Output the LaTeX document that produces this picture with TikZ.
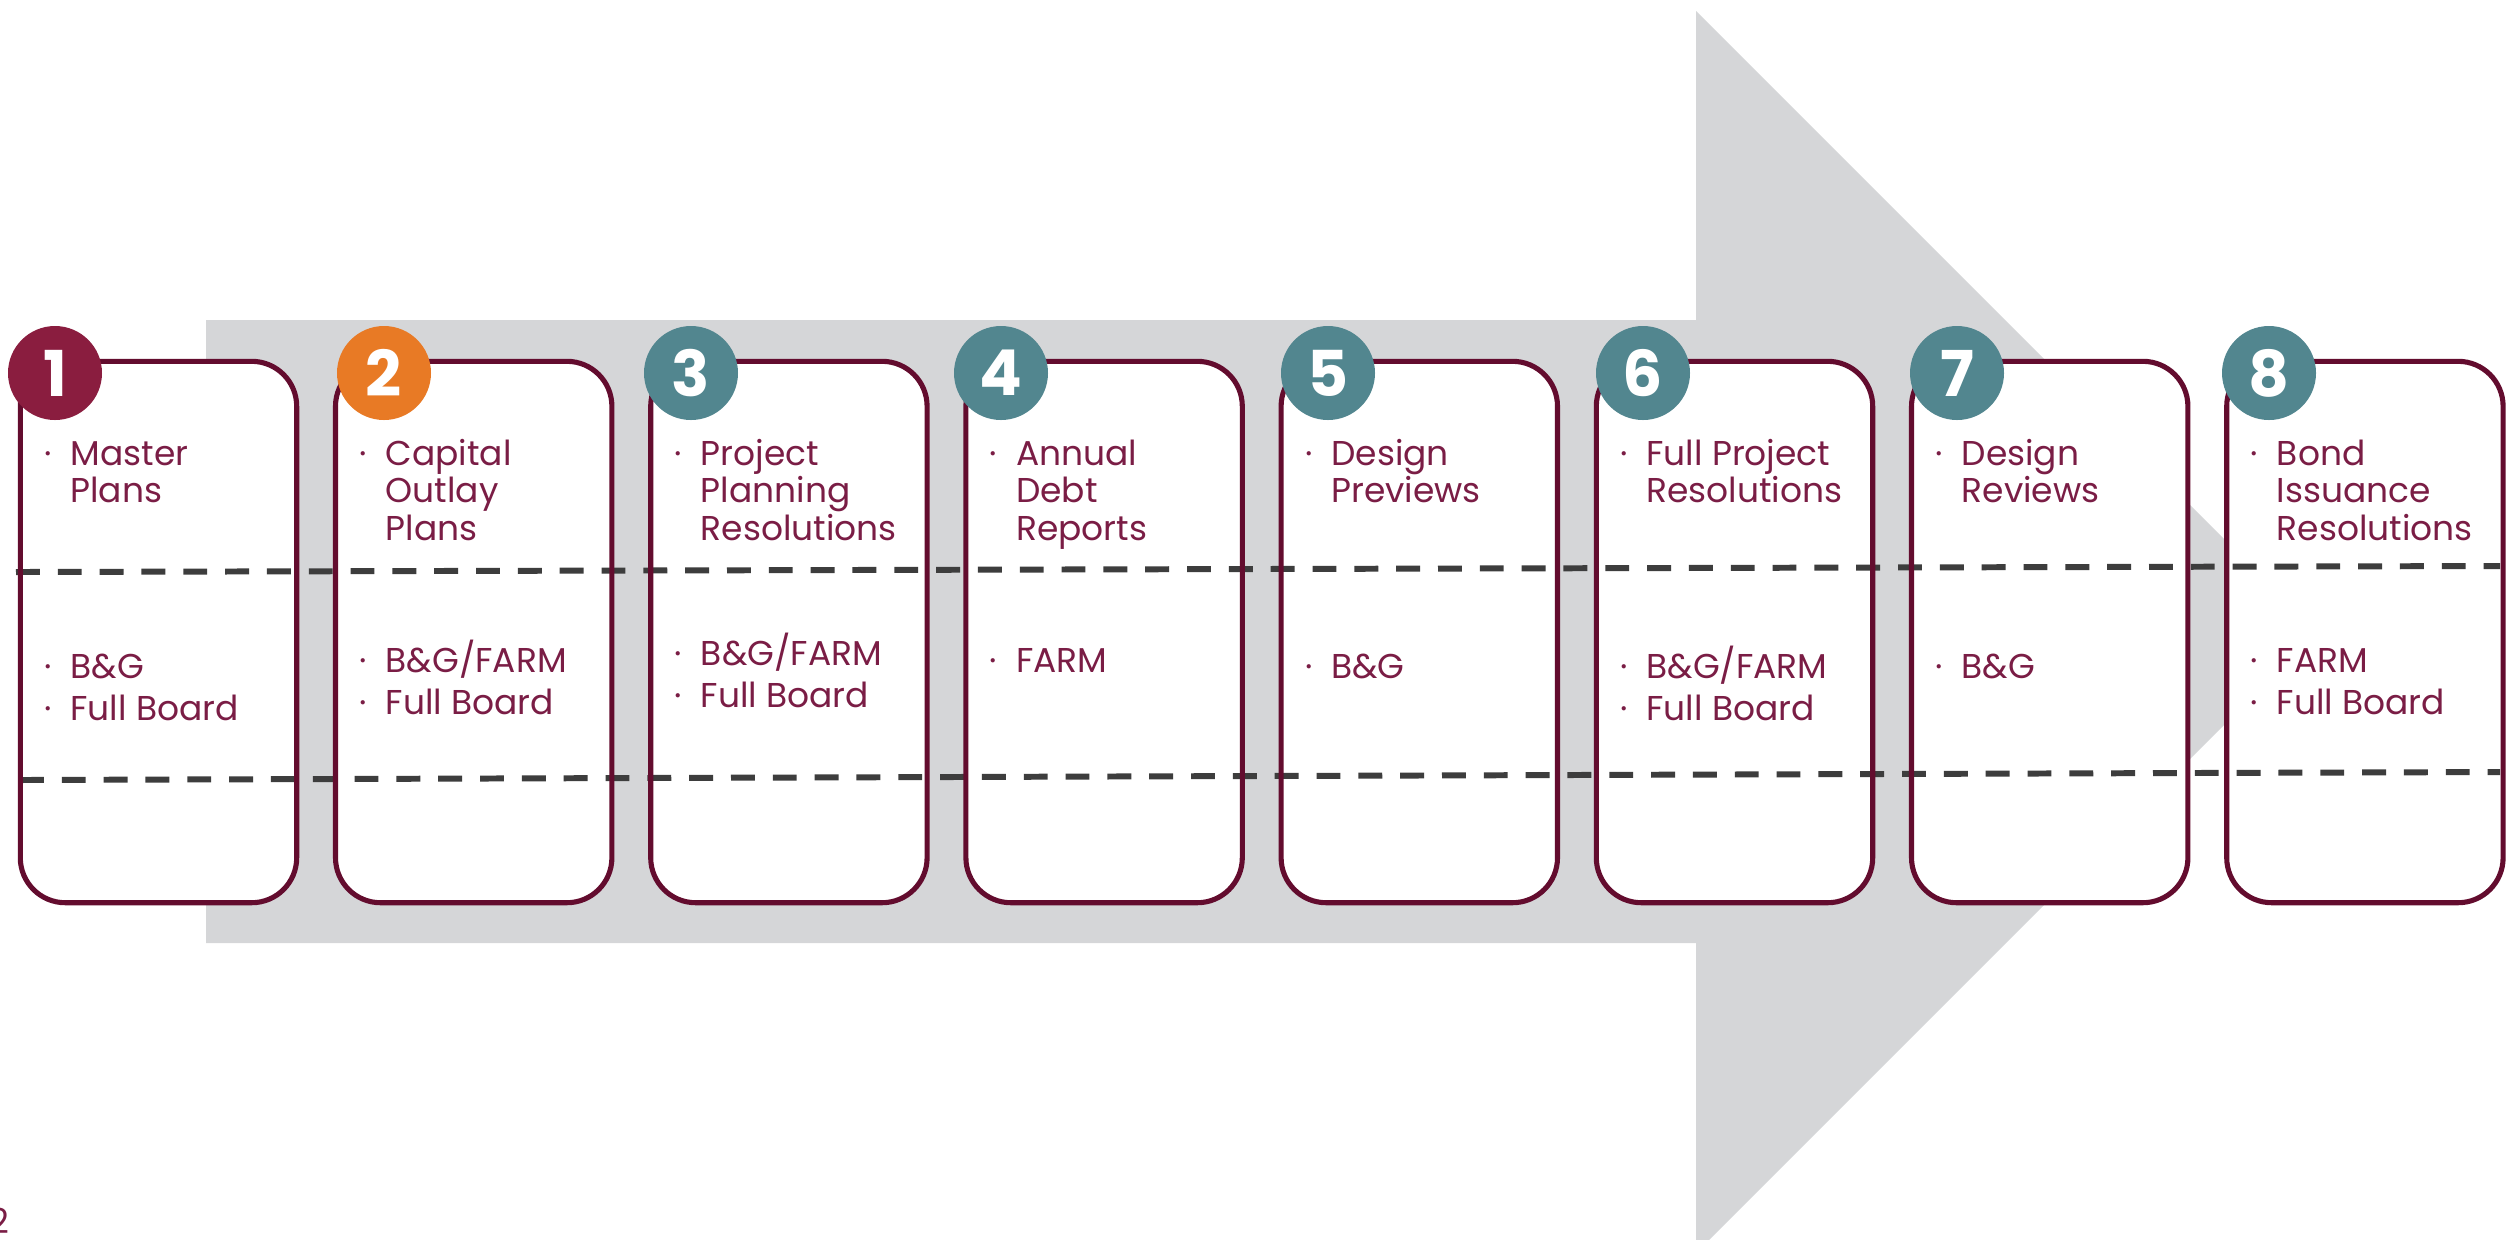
\documentclass[tikz,border=0pt]{standalone}
\usepackage{fontspec}
\setmainfont{Poppins}

\definecolor{boxred}{HTML}{630C2E}
\definecolor{textred}{HTML}{7A1D45}
\definecolor{numred}{HTML}{8A1D3F}
\definecolor{numorange}{HTML}{E87A25}
\definecolor{numteal}{HTML}{52868F}
\definecolor{arrowgray}{HTML}{D5D6D8}
\definecolor{dashgray}{HTML}{3D3D3D}

\newcommand{\bl}{\makebox[7.5pt][l]{\textperiodcentered}}

\tikzset{
  stagebox/.style={rectangle,rounded corners=4.5mm,minimum width=27.5mm,minimum height=54mm,inner sep=0pt,fill=white},
  boxline/.style={draw=boxred,line width=1.45pt,rounded corners=4.5mm},
  sepline/.style={draw=dashgray,line width=1.7pt,dash pattern=on 6.8pt off 5.1pt},
  stepnum/.style={circle,minimum size=9.4mm,inner sep=0pt,text=white,font=\fontsize{18pt}{18pt}\selectfont\bfseries},
  toptext/.style={anchor=base west,inner sep=0pt,text=textred,font=\fontsize{9.8pt}{10.67pt}\selectfont},
  lowtext/.style={anchor=base west,inner sep=0pt,text=textred,font=\fontsize{9.8pt}{12.2pt}\selectfont}
}

\begin{document}
\begin{tikzpicture}[x=0.1mm,y=-0.1mm]
\useasboundingbox (0,0) rectangle (2509,1239);
\clip (0,0) rectangle (2509,1239);

% big arrow in the back
\fill[arrowgray] (206,320) -- (1696,320) -- (1696,11) -- (2317,632) -- (1696,1253) -- (1696,943) -- (206,943) -- cycle;

% stage boxes
\node[stagebox] (b1) at (158.5,632) {};
\node[stagebox] (b2) at (473.7,632) {};
\node[stagebox] (b3) at (788.9,632) {};
\node[stagebox] (b4) at (1104.1,632) {};
\node[stagebox] (b5) at (1419.3,632) {};
\node[stagebox] (b6) at (1734.5,632) {};
\node[stagebox] (b7) at (2049.7,632) {};
\node[stagebox] (b8) at (2364.9,632) {};

% dashed rows
\coordinate (upa) at (16,572);
\coordinate (upb) at (2500,566);
\coordinate (lowa) at (20,780);
\coordinate (lowb) at (2500,772);
\draw[sepline] (upa) -- (upb);
\draw[sepline] (lowa) -- (lowb);

\foreach \b in {b1,b2,b3,b4,b5,b6,b7,b8}
  \draw[boxline] (\b.south west) rectangle (\b.north east);

% numbers
\node[stepnum,fill=numred] (n1) at (55,373) {1};
\node[stepnum,fill=numorange] (n2) at (384,373) {2};
\node[stepnum,fill=numteal] (n3) at (691,373) {3};
\node[stepnum,fill=numteal] (n4) at (1001,373) {4};
\node[stepnum,fill=numteal] (n5) at (1328,373) {5};
\node[stepnum,fill=numteal] (n6) at (1643,373) {6};
\node[stepnum,fill=numteal] (n7) at (1957,373) {7};
\node[stepnum,fill=numteal] (n8) at (2269,373) {8};

% what is presented
\node[toptext] (t1) at (43.5,465) {\begin{tabular}[t]{@{}l@{}l@{}}\bl&Master\\&Plans\end{tabular}};
\node[toptext] (t2) at (358.7,465) {\begin{tabular}[t]{@{}l@{}l@{}}\bl&Capital\\&Outlay\\&Plans\end{tabular}};
\node[toptext] (t3) at (673.9,465) {\begin{tabular}[t]{@{}l@{}l@{}}\bl&Project\\&Planning\\&Resolutions\end{tabular}};
\node[toptext] (t4) at (989.1,465) {\begin{tabular}[t]{@{}l@{}l@{}}\bl&Annual\\&Debt\\&Reports\end{tabular}};
\node[toptext] (t5) at (1304.3,465) {\begin{tabular}[t]{@{}l@{}l@{}}\bl&Design\\&Previews\end{tabular}};
\node[toptext] (t6) at (1619.5,465) {\begin{tabular}[t]{@{}l@{}l@{}}\bl&Full Project\\&Resolutions\end{tabular}};
\node[toptext] (t7) at (1934.7,465) {\begin{tabular}[t]{@{}l@{}l@{}}\bl&Design\\&Reviews\end{tabular}};
\node[toptext] (t8) at (2249.9,465) {\begin{tabular}[t]{@{}l@{}l@{}}\bl&Bond\\&Issuance\\&Resolutions\end{tabular}};

% who reviews it
\node[lowtext] (r1) at (43.5,678) {\begin{tabular}[t]{@{}l@{}l@{}}\bl&B\&G\\\bl&Full Board\end{tabular}};
\node[lowtext] (r2) at (358.7,672) {\begin{tabular}[t]{@{}l@{}l@{}}\bl&B\&G/FARM\\\bl&Full Board\end{tabular}};
\node[lowtext] (r3) at (673.9,665) {\begin{tabular}[t]{@{}l@{}l@{}}\bl&B\&G/FARM\\\bl&Full Board\end{tabular}};
\node[lowtext] (r4) at (989.1,672) {\begin{tabular}[t]{@{}l@{}l@{}}\bl&FARM\end{tabular}};
\node[lowtext] (r5) at (1304.3,678) {\begin{tabular}[t]{@{}l@{}l@{}}\bl&B\&G\end{tabular}};
\node[lowtext] (r6) at (1619.5,678) {\begin{tabular}[t]{@{}l@{}l@{}}\bl&B\&G/FARM\\\bl&Full Board\end{tabular}};
\node[lowtext] (r7) at (1934.7,678) {\begin{tabular}[t]{@{}l@{}l@{}}\bl&B\&G\end{tabular}};
\node[lowtext] (r8) at (2249.9,672) {\begin{tabular}[t]{@{}l@{}l@{}}\bl&FARM\\\bl&Full Board\end{tabular}};

% page number
\node[anchor=base east,inner sep=0pt,text=textred,font=\fontsize{9.8pt}{10pt}\selectfont] (pg) at (10,1233) {2};
\end{tikzpicture}
\end{document}
